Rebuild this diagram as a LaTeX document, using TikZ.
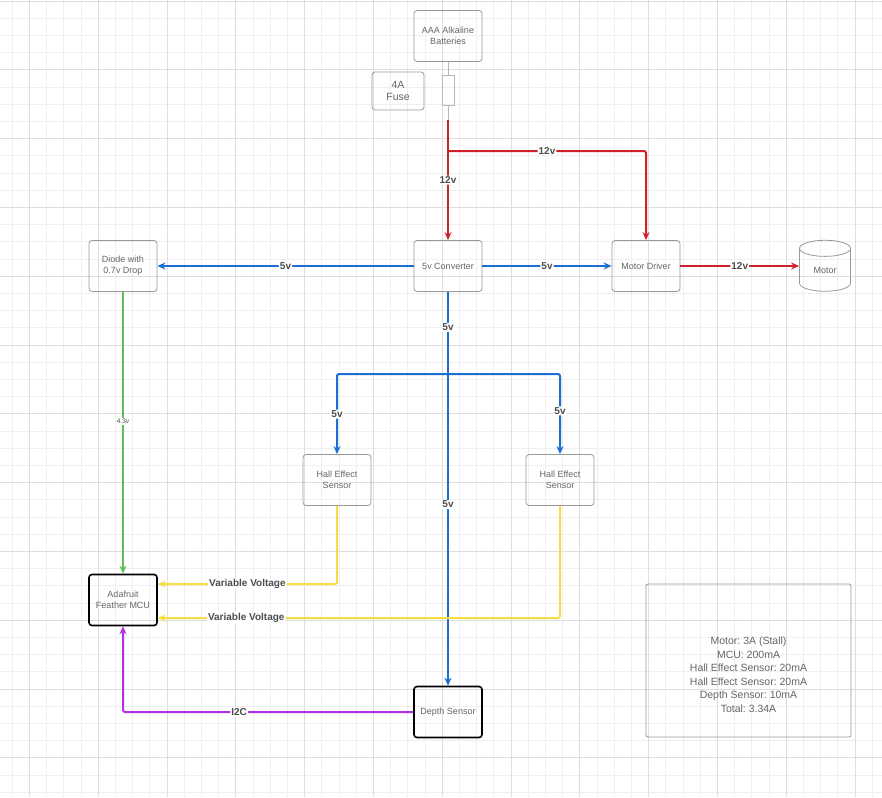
\documentclass[tikz,border=0pt]{standalone}
\usepackage{fontspec}
\setmainfont{Liberation Sans}
\usetikzlibrary{arrows.meta, positioning, shapes.geometric, calc}
\definecolor{wireRed}{HTML}{D0212B}
\definecolor{wireBlue}{HTML}{1B6FD1}
\definecolor{wireGreen}{HTML}{5CBF5A}
\definecolor{wireYellow}{HTML}{F6DD45}
\definecolor{wirePurple}{HTML}{B530E0}
\definecolor{boxLine}{HTML}{9A9A9A}
\definecolor{boxText}{HTML}{666666}
\definecolor{labelText}{HTML}{4D4D4D}
\definecolor{gridMinor}{HTML}{EFEFEF}
\definecolor{gridMajor}{HTML}{DEDEDE}
\frenchspacing

\begin{document}
\begin{tikzpicture}[x=1pt, y=-1pt,
  part/.style={draw=boxLine, line width=0.8pt, rounded corners=3pt, minimum width=68pt, minimum height=51pt,
    align=center, text=boxText, font=\fontsize{9}{11}\selectfont, inner sep=2pt},
  partbold/.style={part, draw=black, line width=1.6pt},
  wire/.style={line width=2pt, rounded corners=2pt, -{Stealth[length=8pt,width=7pt]}},
  volt/.style={fill=white, text=labelText, font=\bfseries\fontsize{10}{12}\selectfont, inner sep=1pt}]
\useasboundingbox (0,0) rectangle (882,797);

% Background grid
\fill[white] (0,0) rectangle (882,797);
\foreach \i in {-1,...,50} \draw[gridMinor, line width=0.7pt] ({29.3+17.2*\i},0) -- ({29.3+17.2*\i},797);
\foreach \i in {0,...,46} \draw[gridMinor, line width=0.7pt] (0,{1+17.2*\i}) -- (882,{1+17.2*\i});
\foreach \i in {0,...,12} \draw[gridMajor, line width=0.8pt] ({29.3+68.8*\i},0) -- ({29.3+68.8*\i},797);
\foreach \i in {0,...,11} \draw[gridMajor, line width=0.8pt] (0,{1+68.8*\i}) -- (882,{1+68.8*\i});

% Power source
\node[part] (batt) at (448,36) {AAA Alkaline\\Batteries};
\node[part, minimum width=52pt, minimum height=38pt, font=\fontsize{10.5}{12.5}\selectfont] (fuselbl) at (398,91) {4A\\Fuse};
\node[draw=boxLine!70, line width=0.7pt, minimum width=12pt, minimum height=30pt, inner sep=0pt] (fuse) at (448,90) {};
\coordinate (redtop) at (448,120);
\coordinate (j12) at (448,151);

% Parts
\node[part] (conv) at (448,266) {5v Converter};
\node[part] (drv) at (646,266) {Motor Driver};
\node[cylinder, shape border rotate=90, aspect=0.7, draw=boxLine, line width=0.8pt, minimum width=51pt, minimum height=51pt,
  text=boxText, font=\fontsize{9}{11}\selectfont, inner sep=0pt] (motor) at (825,270) {Motor};
\node[part] (diode) at (123,266) {Diode with\\0.7v Drop};
\node[part] (hesL) at (337,480) {Hall Effect\\Sensor};
\node[part] (hesR) at (560,480) {Hall Effect\\Sensor};
\node[partbold] (mcu) at (123,600) {Adafruit\\Feather MCU};
\node[partbold] (depth) at (448,712) {Depth Sensor};

% Current budget
\node[part, rounded corners=2pt, minimum width=205pt, minimum height=153pt] (budget) at (748.5,660.5) {};
\node[align=center, text=boxText, font=\fontsize{10.5}{13.5}\selectfont] (budgettext) at ([yshift=-14pt]budget.center)
  {Motor: 3A (Stall)\\MCU: 200mA\\Hall Effect Sensor: 20mA\\Hall Effect Sensor: 20mA\\Depth Sensor: 10mA\\Total: 3.34A};

% 12v wires
\draw[boxLine!70, line width=0.8pt] (batt.south) -- (fuse.north);
\draw[boxLine!70, line width=0.8pt] (fuse.south) -- (redtop);
\draw[wire, wireRed] (redtop) -- node[volt]{12v} (conv.north);
\draw[wire, wireRed] (j12) -| node[volt, pos=0.25]{12v} (drv.north);
\draw[wire, wireRed] (drv.east) -- node[volt]{12v} (drv.east -| motor.west);

% 5v wires
\coordinate (split) at (448,374);
\draw[wire, wireBlue] (conv.west) -- node[volt]{5v} (diode.east);
\draw[wire, wireBlue] (conv.east) -- node[volt]{5v} (drv.west);
\draw[wire, wireBlue] (conv.south) -- node[volt, pos=0.09]{5v} node[volt, pos=0.54]{5v} (depth.north);
\draw[wire, wireBlue] (split) -| node[volt, pos=0.75]{5v} (hesL.north);
\draw[wire, wireBlue] (split) -| node[volt, pos=0.73]{5v} (hesR.north);

% Signals to the MCU
\draw[wire, wireGreen] (diode.south) -- node[volt, font=\fontsize{6.5}{7}\selectfont, pos=0.46]{4.3v} (mcu.north);
\draw[wire, wireYellow] (hesL.south) |- node[volt, pos=0.75]{Variable Voltage} ([yshift=16pt]mcu.east);
\draw[wire, wireYellow] (hesR.south) |- node[volt, pos=0.89]{Variable Voltage} ([yshift=-18pt]mcu.east);
\draw[wire, wirePurple] (depth.west) -| node[volt, pos=0.3]{I2C} (mcu.south);
\end{tikzpicture}
\end{document}
